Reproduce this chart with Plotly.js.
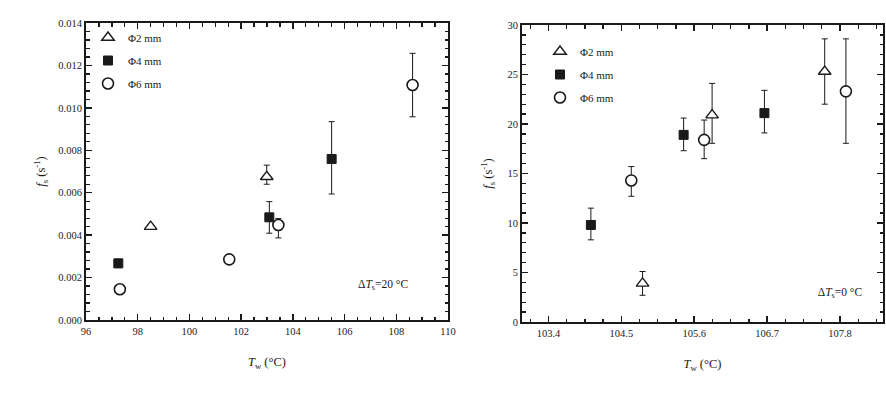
<!DOCTYPE html>
<html>
<head>
<meta charset="utf-8">
<script src="https://cdn.plot.ly/plotly-3.0.1.min.js"></script>
<style>html,body{margin:0;padding:0;background:#fff;}#chart{width:886px;height:417px;}</style>
</head>
<body>
<div id="chart"></div>
<script>
// ---- Panel (a): ΔTs = 20 °C ----
const seriesNames = ["Φ2 mm", "Φ4 mm", "Φ6 mm"];

const a2_x = [98.50, 102.99];
const a2_y = [0.0044, 0.00675];
const a2_ep = [0.0001, 0.00055];
const a2_em = [0.0001, 0.00035];

const a4_x = [97.25, 103.09, 105.50];
const a4_y = [0.00267, 0.00484, 0.00759];
const a4_ep = [0.0002, 0.00074, 0.00176];
const a4_em = [0.0002, 0.00075, 0.00165];

const a6_x = [97.31, 101.54, 103.44, 108.63];
const a6_y = [0.00145, 0.00286, 0.00448, 0.01108];
const a6_ep = [0.0001, 0.0001, 0.0003, 0.00149];
const a6_em = [0.0001, 0.0001, 0.00061, 0.0015];

// ---- Panel (b): ΔTs = 0 °C ----
const b2_x = [104.82, 105.87, 107.57];
const b2_y = [3.9, 20.9, 25.3];
const b2_ep = [1.2, 3.2, 3.3];
const b2_em = [1.2, 2.85, 3.3];

const b4_x = [104.04, 105.44, 106.66];
const b4_y = [9.8, 18.9, 21.1];
const b4_ep = [1.7, 1.7, 2.3];
const b4_em = [1.5, 1.6, 2.0];

const b6_x = [104.65, 105.75, 107.89];
const b6_y = [14.3, 18.4, 23.3];
const b6_ep = [1.4, 2.0, 5.3];
const b6_em = [1.6, 1.9, 5.25];

// tick settings: first tick, step
const aXTick0 = 96, aXStep = 2;
const aYTick0 = 0, aYStep = 0.002;
const bXTick0 = 103.4, bXStep = 1.1;
const bYTick0 = 0, bYStep = 5;

// text labels
const notesA = ["Δ<i>T</i><sub>s</sub>=20 °C"];
const notesB = ["Δ<i>T</i><sub>s</sub>=0 °C"];
const panelLabels = ["(a)", "(b)"];

const FONT = "Liberation Serif";
const INK = "#1a1a1a";

const markers = [
  {symbol: "triangle-up", size: 11, color: "#fff", line: {color: INK, width: 1.4}},
  {symbol: "square", size: 9, color: INK, line: {color: INK, width: 1}},
  {symbol: "circle", size: 11, color: "#fff", line: {color: INK, width: 1.6}}
];

function tr(x, y, ep, em, i, xa, ya, leg) {
  return {
    type: "scatter", mode: "markers", x: x, y: y,
    xaxis: xa, yaxis: ya, name: seriesNames[i], legend: leg,
    legendgroup: leg + i,
    marker: markers[i],
    error_y: {type: "data", symmetric: false, array: ep, arrayminus: em,
              color: INK, thickness: 1, width: 3}
  };
}

function label(x, y, text, size, xa, ya) {
  return {
    type: "scatter", mode: "text", x: [x], y: [y], text: text,
    xaxis: xa, yaxis: ya, showlegend: false, cliponaxis: false,
    textposition: "middle center",
    textfont: {family: FONT, size: size, color: INK}
  };
}

const data = [
  tr(a2_x, a2_y, a2_ep, a2_em, 0, "x", "y", "legend"),
  tr(a4_x, a4_y, a4_ep, a4_em, 1, "x", "y", "legend"),
  tr(a6_x, a6_y, a6_ep, a6_em, 2, "x", "y", "legend"),
  tr(b2_x, b2_y, b2_ep, b2_em, 0, "x2", "y2", "legend2"),
  tr(b4_x, b4_y, b4_ep, b4_em, 1, "x2", "y2", "legend2"),
  tr(b6_x, b6_y, b6_ep, b6_em, 2, "x2", "y2", "legend2"),
  label(107.49, 0.00165, notesA, 11.5, "x", "y"),
  label(107.8, 2.93, notesB, 11.5, "x2", "y2"),
  label(102.42, -0.00396, [panelLabels[0]], 15, "x", "y"),
  label(105.7, -8.69, [panelLabels[1]], 15, "x2", "y2")
];

function axisBase() {
  return {
    showgrid: false, zeroline: false, showline: true, mirror: "ticks",
    linecolor: INK, linewidth: 2, ticks: "inside", ticklen: 6,
    tickcolor: INK, tickwidth: 1.5, tickmode: "linear", automargin: false,
    tickfont: {family: FONT, size: 10.5, color: "#222"}
  };
}

function minorTicks(step, start) {
  return {dtick: step, tick0: start, ticks: "inside", ticklen: 3.5, tickcolor: INK, tickwidth: 1.3};
}

const titleFont = {family: FONT, size: 12.5, color: INK};

const W = 886, H = 417;
const layout = {
  width: W, height: H,
  margin: {l: 0, r: 0, t: 0, b: 0},
  paper_bgcolor: "#fff", plot_bgcolor: "#fff",
  xaxis: Object.assign(axisBase(), {
    domain: [86 / W, 448 / W], range: [96, 110],
    tick0: aXTick0, dtick: aXStep, minor: minorTicks(0.5, 96), anchor: "y",
    title: {text: "<i>T</i><sub>w</sub> (°C)", font: titleFont, standoff: 22}
  }),
  yaxis: Object.assign(axisBase(), {
    domain: [1 - 320 / H, 1 - 23 / H], range: [0, 0.014],
    tick0: aYTick0, dtick: aYStep, tickformat: ".3f", minor: minorTicks(0.0004, 0), anchor: "x",
    title: {text: "<i>f</i><sub>s</sub> (s<sup>-1</sup>)", font: titleFont, standoff: 10}
  }),
  xaxis2: Object.assign(axisBase(), {
    domain: [522 / W, 883 / W], range: [103.0, 108.45],
    tick0: bXTick0, dtick: bXStep, tickformat: ".1f", minor: minorTicks(0.275, 103.4), anchor: "y2",
    title: {text: "<i>T</i><sub>w</sub> (°C)", font: titleFont, standoff: 22}
  }),
  yaxis2: Object.assign(axisBase(), {
    domain: [1 - 322 / H, 1 - 25 / H], range: [0, 30],
    tick0: bYTick0, dtick: bYStep, minor: minorTicks(1, 0), anchor: "x2",
    title: {text: "<i>f</i><sub>s</sub> (s<sup>-1</sup>)", font: titleFont, standoff: 12}
  }),
  legend: {
    x: 88 / W, y: 1 - 23 / H, xanchor: "left", yanchor: "top",
    bgcolor: "rgba(0,0,0,0)", font: {family: FONT, size: 11, color: INK},
    tracegroupgap: 4, itemwidth: 30
  },
  legend2: {
    x: 540 / W, y: 1 - 37 / H, xanchor: "left", yanchor: "top",
    bgcolor: "rgba(0,0,0,0)", font: {family: FONT, size: 11, color: INK},
    tracegroupgap: 4, itemwidth: 30
  }
};

Plotly.newPlot("chart", data, layout, {staticPlot: true, displayModeBar: false});
</script>
</body>
</html>
